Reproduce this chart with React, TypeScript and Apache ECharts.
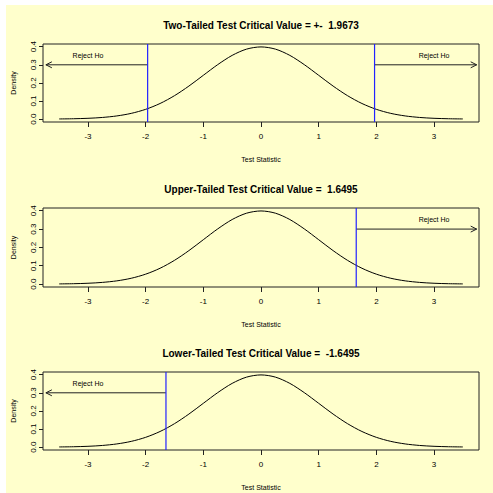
import React, { useEffect, useRef } from "react";
import * as echarts from "echarts";

// Test statistic grid and standard normal density
const testStat = [
  -3.5, -3.25, -3.0, -2.75, -2.5, -2.25, -2.0, -1.75, -1.5, -1.25, -1.0, -0.75, -0.5, -0.25,
  0, 0.25, 0.5, 0.75, 1.0, 1.25, 1.5, 1.75, 2.0, 2.25, 2.5, 2.75, 3.0, 3.25, 3.5,
];
const density = [
  0.0009, 0.002, 0.0044, 0.0091, 0.0175, 0.0317, 0.054, 0.0863, 0.1295, 0.1826, 0.242, 0.3011,
  0.3521, 0.3867, 0.3989, 0.3867, 0.3521, 0.3011, 0.242, 0.1826, 0.1295, 0.0863, 0.054, 0.0317,
  0.0175, 0.0091, 0.0044, 0.002, 0.0009,
];

const titles = [
  "Two-Tailed Test Critical Value = +-  1.9673",
  "Upper-Tailed Test Critical Value =  1.6495",
  "Lower-Tailed Test Critical Value =  -1.6495",
];
// critical values per panel
const criticalValues = [[-1.9673, 1.9673], [1.6495], [-1.6495]];
// reject arrows per panel: [from x, to x, y, text x, text y]
const rejectArrows = [
  [
    [-1.9673, -3.73, 0.3, -3, 0.35],
    [1.9673, 3.74, 0.3, 3, 0.35],
  ],
  [[1.6495, 3.74, 0.3, 3, 0.35]],
  [[-1.6495, -3.73, 0.3, -3, 0.35]],
];
const xTicks = [-3, -2, -1, 0, 1, 2, 3];
const yTicks = [0, 0.1, 0.2, 0.3, 0.4];
const xLabel = "Test Statistic";
const yLabel = "Density";
const rejectText = "Reject Ho";

const FONT = "Liberation Sans, Arial, sans-serif";

export default function App() {
  const ref = useRef<HTMLDivElement>(null);

  useEffect(() => {
    if (!ref.current) return;
    const chart = echarts.init(ref.current, null, { renderer: "svg" });

    const gridTops = [44, 208, 372];
    const gridHeights = [78, 79, 78];
    const gridLeft = 43;
    const gridWidth = 436;

    const grids = gridTops.map((t, i) => ({
      left: gridLeft,
      top: t,
      width: gridWidth,
      height: gridHeights[i],
      show: true,
      backgroundColor: "transparent",
      borderColor: "#222",
      borderWidth: 1,
    }));

    const xAxes = gridTops.map((_, i) => ({
      type: "value",
      gridIndex: i,
      min: -3.78,
      max: 3.78,
      position: "bottom",
      name: xLabel,
      nameLocation: "middle",
      nameGap: 34,
      nameTextStyle: { fontSize: 7, fontFamily: FONT, color: "#000" },
      axisLine: { show: false, onZero: false },
      axisTick: {
        show: true,
        customValues: xTicks,
        length: 5,
        lineStyle: { color: "#222", width: 1 },
      },
      axisLabel: {
        customValues: xTicks,
        fontSize: 8,
        fontFamily: FONT,
        color: "#000",
        margin: 10,
      },
      splitLine: { show: false },
    }));

    const yAxes = gridTops.map((_, i) => ({
      type: "value",
      gridIndex: i,
      min: -0.016,
      max: 0.415,
      position: "left",
      name: yLabel,
      nameLocation: "middle",
      nameGap: 26,
      nameRotate: 90,
      nameTextStyle: { fontSize: 7, fontFamily: FONT, color: "#000" },
      axisLine: { show: false, onZero: false },
      axisTick: {
        show: true,
        customValues: yTicks,
        length: 4,
        lineStyle: { color: "#222", width: 1 },
      },
      axisLabel: {
        customValues: yTicks,
        rotate: 90,
        fontSize: 8,
        fontFamily: FONT,
        color: "#000",
        margin: 6,
        formatter: (v: number) => v.toFixed(1),
      },
      splitLine: { show: false },
    }));

    const series: any[] = [];
    gridTops.forEach((_, i) => {
      series.push({
        type: "line",
        xAxisIndex: i,
        yAxisIndex: i,
        data: testStat.map((x, k) => [x, density[k]]),
        showSymbol: false,
        smooth: 0.3,
        lineStyle: { color: "#000", width: 1 },
        z: 3,
      });
      series.push({
        type: "custom",
        xAxisIndex: i,
        yAxisIndex: i,
        data: rejectArrows[i],
        clip: false,
        z: 4,
        renderItem: (_params: any, api: any) => {
          const x0 = api.value(0);
          const x1 = api.value(1);
          const y = api.value(2);
          const p0 = api.coord([x0, y]);
          const p1 = api.coord([x1, y]);
          const pt = api.coord([api.value(3), api.value(4)]);
          const dir = p1[0] > p0[0] ? 1 : -1;
          return {
            type: "group",
            children: [
              {
                type: "line",
                shape: { x1: p0[0], y1: p0[1], x2: p1[0], y2: p1[1] },
                style: { stroke: "#222", lineWidth: 1 },
              },
              {
                type: "polyline",
                shape: {
                  points: [
                    [p1[0] - dir * 6, p1[1] - 3],
                    [p1[0], p1[1]],
                    [p1[0] - dir * 6, p1[1] + 3],
                  ],
                },
                style: { stroke: "#222", lineWidth: 1, fill: "none" },
              },
              {
                type: "text",
                style: {
                  text: rejectText,
                  x: pt[0],
                  y: pt[1],
                  align: "center",
                  verticalAlign: "middle",
                  fontSize: 7,
                  fontFamily: FONT,
                  fill: "#000",
                },
              },
            ],
          };
        },
      });
      series.push({
        type: "custom",
        xAxisIndex: i,
        yAxisIndex: i,
        data: criticalValues[i].map((c) => [c, 0]),
        clip: false,
        z: 10,
        renderItem: (params: any, api: any) => {
          const p = api.coord([api.value(0), 0]);
          const cs = params.coordSys;
          return {
            type: "rect",
            shape: { x: p[0] - 0.5, y: cs.y, width: 1.2, height: cs.height },
            style: { fill: "#2222FF", stroke: "none" },
          };
        },
      });
    });

    const titleTops = [20, 184, 348];
    chart.setOption({
      animation: false,
      backgroundColor: "#ffffff",
      graphic: [
        {
          type: "rect",
          shape: { x: 6, y: 5, width: 500, height: 500 },
          style: { fill: "#FFFFCC" },
          z: -10,
          silent: true,
        },
      ],
      title: titles.map((t, i) => ({
        text: t,
        left: 261,
        top: titleTops[i],
        textAlign: "center",
        padding: 0,
        textStyle: { fontSize: 10, fontWeight: "bold", fontFamily: FONT, color: "#000" },
      })),
      grid: grids,
      xAxis: xAxes,
      yAxis: yAxes,
      series,
    });

    return () => chart.dispose();
  }, []);

  return (
    <div
      ref={ref}
      style={{ position: "fixed", left: 0, top: 0, width: 493, height: 493 }}
    />
  );
}
